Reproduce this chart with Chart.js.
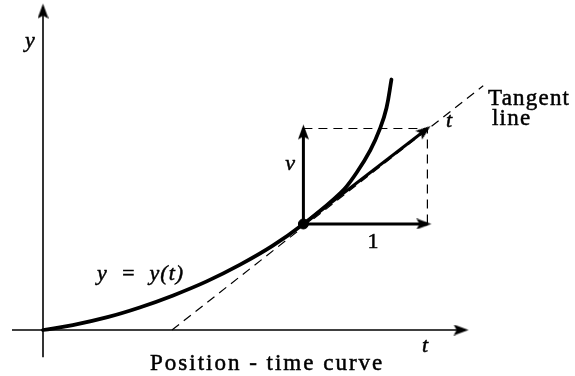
<!DOCTYPE html>
<html>
<head>
<meta charset="utf-8">
<script src="https://cdn.jsdelivr.net/npm/chart.js@4"></script>
<style>
  html, body { margin: 0; padding: 0; background: #fff; }
  #plot { display: block; }
  .probe { position: absolute; left: -999px; top: 0; font-family: "Liberation Serif"; }
</style>
</head>
<body>
<span class="probe">Tangent <i>y</i></span>
<canvas id="plot" width="575" height="376"></canvas>
<script>
// everything is in units of the "1" vector (horizontal unit step)
const curveT = [0, 0.24, 0.52, 0.78, 1.05, 1.32, 1.59, 1.85, 2.10, 2.40, 2.53, 2.64, 2.72, 2.77, 2.81];
const curveY = [0, 0.04, 0.104, 0.182, 0.279, 0.392, 0.527, 0.678, 0.855, 1.105, 1.27, 1.45, 1.63, 1.79, 2.02];

// point of tangency and the velocity there
const pointT = 2.10;
const pointY = 0.855;
const velocity = 0.77;

const tangentT = [1.04, 3.55];
const tangentY = [0, 1.97];

const tAxisT = [-0.25, 3.40];
const yAxisY = [-0.22, 2.60];

const labelText = ['y', 'v', '1', 't', 'Tangent', 'line', 'y  =  y(t)', 't', 'Position - time curve'];
const labelT = [-0.105, 1.992, 2.661, 3.274, 3.589, 3.621, 0.435, 3.081, 0.863];
const labelY = [2.282, 1.290, 0.661, 1.637, 1.815, 1.653, 0.403, -0.177, -0.323];

const PX_PER_UNIT = 124;
const ORIGIN_PX = { x: 43, y: 330 };
const W = 575, H = 376;

const FAMILY = '"Liberation Serif", "Times New Roman", Times, serif';
const ITALIC = 'italic 22px ' + FAMILY;
const ROMAN = '22px ' + FAMILY;
const BIG = '23px ' + FAMILY;
const labelStyle = [
  { font: ITALIC, align: 'center' },
  { font: ITALIC, align: 'center' },
  { font: ROMAN, align: 'center' },
  { font: ITALIC, align: 'center' },
  { font: BIG, align: 'left', spacing: '1.2px' },
  { font: BIG, align: 'left', spacing: '1.2px' },
  { font: ITALIC, align: 'left', spacing: '1px' },
  { font: ITALIC, align: 'center' },
  { font: BIG, align: 'left', spacing: '2px' }
];

// arrowhead bitmap, pointing up, tip a little past the canvas centre
function arrowHead(len, wid, over) {
  const c = document.createElement('canvas');
  c.width = wid;
  c.height = len * 2;
  const g = c.getContext('2d');
  g.fillStyle = '#000';
  g.beginPath();
  g.moveTo(wid / 2, len - over);
  g.lineTo(wid, 2 * len - over);
  g.lineTo(wid / 2, 2 * len - over - 3);
  g.lineTo(0, 2 * len - over);
  g.closePath();
  g.fill();
  return c;
}
const HEAD = arrowHead(15, 11, 4);

function pts(xs, ys) {
  return xs.map((x, i) => ({ x, y: ys[i] }));
}

function headRotation(ctx) {
  const data = ctx.dataset.data;
  const i = ctx.dataIndex;
  if (i === 0) return 0;
  const { x, y } = ctx.chart.scales;
  const dx = x.getPixelForValue(data[i].x) - x.getPixelForValue(data[i - 1].x);
  const dy = y.getPixelForValue(data[i].y) - y.getPixelForValue(data[i - 1].y);
  return Math.atan2(dx, -dy) * 180 / Math.PI;
}

function arrow(data, width) {
  return {
    data,
    showLine: true,
    borderColor: '#000',
    backgroundColor: '#000',
    borderWidth: width,
    pointRadius: ctx => (ctx.dataIndex === ctx.dataset.data.length - 1 ? 5 : 0),
    pointStyle: HEAD,
    pointRotation: headRotation
  };
}

function dashed(data) {
  return {
    data,
    showLine: true,
    borderColor: '#000',
    borderWidth: 1.2,
    borderDash: [9, 6],
    pointRadius: 0
  };
}

const tipT = pointT + 1;
const tipY = pointY + velocity;

const datasets = [
  arrow(pts(tAxisT, [0, 0]), 1.6),
  arrow(pts([0, 0], yAxisY), 1.6),
  {
    data: pts(curveT, curveY),
    showLine: true,
    borderColor: '#000',
    borderWidth: 3.8,
    borderCapStyle: 'round',
    tension: 0.4,
    pointRadius: 0
  },
  dashed(pts(tangentT, tangentY)),
  dashed(pts([pointT, tipT, tipT], [tipY, tipY, pointY])),
  arrow(pts([pointT, pointT], [pointY, tipY]), 3),
  arrow(pts([pointT, tipT], [pointY, pointY]), 3),
  arrow(pts([pointT, tipT], [pointY, tipY]), 3),
  {
    data: [{ x: pointT, y: pointY }],
    pointRadius: 5,
    pointBackgroundColor: '#000',
    pointBorderColor: '#000'
  }
];

const labelPlugin = {
  id: 'labels',
  afterDatasetsDraw(chart) {
    const { ctx, scales: { x, y } } = chart;
    ctx.save();
    ctx.fillStyle = '#000';
    ctx.strokeStyle = '#000';
    ctx.lineWidth = 0.5;
    ctx.textBaseline = 'alphabetic';
    labelText.forEach((text, i) => {
      const s = labelStyle[i];
      const px = x.getPixelForValue(labelT[i]);
      const py = y.getPixelForValue(labelY[i]);
      ctx.font = s.font;
      ctx.letterSpacing = s.spacing || '0px';
      ctx.textAlign = s.align;
      ctx.fillText(text, px, py);
      ctx.strokeText(text, px, py);
    });
    ctx.restore();
  }
};

function draw() {
  new Chart(document.getElementById('plot').getContext('2d'), {
    type: 'scatter',
    data: { datasets },
    options: {
      responsive: false,
      animation: false,
      events: [],
      layout: { padding: 0, autoPadding: false },
      plugins: { legend: { display: false }, tooltip: { enabled: false } },
      scales: {
        x: {
          type: 'linear', display: false,
          min: -ORIGIN_PX.x / PX_PER_UNIT, max: (W - ORIGIN_PX.x) / PX_PER_UNIT
        },
        y: {
          type: 'linear', display: false,
          min: -(H - ORIGIN_PX.y) / PX_PER_UNIT, max: ORIGIN_PX.y / PX_PER_UNIT
        }
      }
    },
    plugins: [labelPlugin]
  });
}

Promise.all([
  document.fonts.load(ROMAN),
  document.fonts.load(ITALIC)
]).then(draw, draw);
</script>
</body>
</html>
